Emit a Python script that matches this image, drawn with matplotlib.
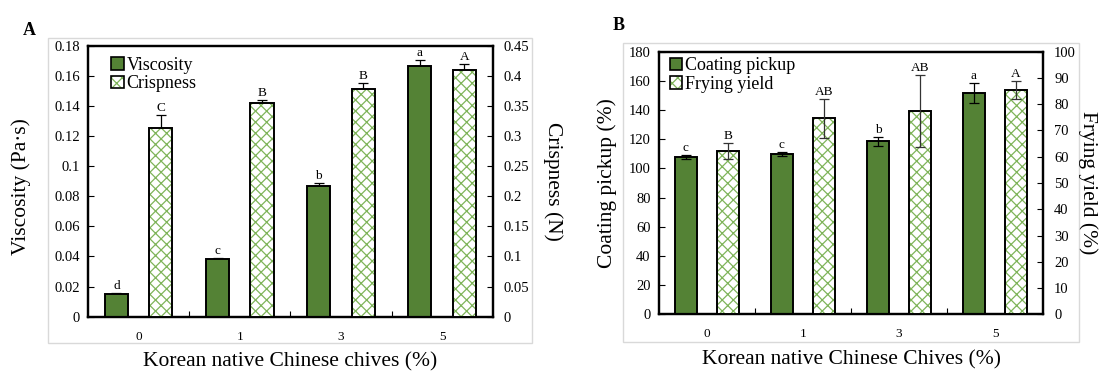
import matplotlib
matplotlib.use("Agg")
import matplotlib.pyplot as plt
import numpy as np
from matplotlib.patches import Patch, Rectangle
from matplotlib.legend_handler import HandlerTuple
from matplotlib.ticker import FuncFormatter

plt.rcParams.update({
    "font.family": "serif",
    "font.serif": ["Liberation Serif", "DejaVu Serif"],
    "hatch.linewidth": 0.9,
})

# ---- data ----
conc = ["0", "1", "3", "5"]

viscosity = [0.0148, 0.038, 0.0867, 0.1665]
viscosity_err = [0.0008, 0.0007, 0.0018, 0.0038]
viscosity_letters = ["d", "c", "b", "a"]

crispness = [0.314, 0.354, 0.378, 0.409]
crispness_err = [0.021, 0.006, 0.010, 0.010]
crispness_letters = ["C", "B", "B", "A"]

coating = [107.6, 109.9, 118.5, 151.5]
coating_err = [1.4, 1.2, 3.0, 6.9]
coating_letters = ["c", "c", "b", "a"]

frying = [62.3, 74.6, 77.4, 85.4]
frying_err = [3.0, 7.3, 13.8, 3.5]
frying_letters = ["B", "AB", "AB", "A"]

SOLID = "#548235"
HATCH = "#7fb45a"
BAR_W = 0.23
OFF = 0.22
LABEL_FS = 15.5


def fmt(v, pos):
    return f"{v:g}"


def solid_bars(ax, x, vals, errs, err_on_top=False):
    ax.bar(x, vals, BAR_W, color=SOLID, edgecolor="black", linewidth=1.4, zorder=3)
    ax.errorbar(x, vals, yerr=errs, fmt="none", ecolor="black", elinewidth=0.9,
                capsize=3.5, capthick=0.9, zorder=4 if err_on_top else 2)


def hatched_bars(ax, x, vals, errs, err_on_top=False):
    ax.bar(x, vals, BAR_W, color="white", edgecolor=HATCH, hatch="xxx", linewidth=0, zorder=3)
    ax.bar(x, vals, BAR_W, fill=False, edgecolor="black", linewidth=1.4, zorder=3.5)
    ax.errorbar(x, vals, yerr=errs, fmt="none", ecolor="#333333" if err_on_top else "black",
                elinewidth=0.9, capsize=3.5, capthick=0.9, zorder=4 if err_on_top else 2)


def letters(ax, x, vals, errs, labels):
    for xi, v, e, t in zip(x, vals, errs, labels):
        ax.annotate(t, (xi, v + e), xytext=(0, 3), textcoords="offset points",
                    ha="center", va="baseline", fontsize=9.5, zorder=5)


def style_axes(ax, ax2):
    for a in (ax, ax2):
        for s in a.spines.values():
            s.set_linewidth(1.6)
        a.tick_params(axis="y", direction="in", length=4, width=0.8, labelsize=10.5)
    ax.tick_params(axis="y", pad=6)
    ax2.tick_params(axis="y", pad=8)
    ax.set_xticks(range(len(conc)))
    ax.set_xticklabels(conc)
    ax.tick_params(axis="x", length=0, pad=10, labelsize=9.5)
    ax.set_xticks([0.5, 1.5, 2.5], minor=True)
    ax.tick_params(axis="x", which="minor", direction="in", length=4, width=0.8)
    ax.set_xlim(-0.5, len(conc) - 0.5)
    ax.yaxis.set_major_formatter(FuncFormatter(fmt))
    ax2.yaxis.set_major_formatter(FuncFormatter(fmt))


def legend(ax, labels, anchor):
    handles = [Patch(facecolor=SOLID, edgecolor="black", linewidth=1.2),
               (Patch(facecolor="white", edgecolor=HATCH, hatch="xxx", linewidth=0),
                Patch(fill=False, edgecolor="black", linewidth=1.2))]
    ax.legend(handles, labels, loc="upper left", frameon=False,
              fontsize=13, handlelength=0.7, handleheight=0.7, handletextpad=0.15,
              labelspacing=0.1, borderaxespad=0.2, bbox_to_anchor=anchor,
              handler_map={tuple: HandlerTuple(ndivide=1, pad=0)})


fig = plt.figure(figsize=(11, 3.71), dpi=100)

# grey chart-area borders
for (l, b, w, h) in [(0.0436, 0.0755, 0.44, 0.822), (0.5664, 0.0782, 0.4145, 0.806)]:
    fig.patches.append(Rectangle((l, b), w, h, transform=fig.transFigure, fill=False,
                                 edgecolor="#d9d9d9", linewidth=1.0, zorder=0))

x = np.arange(len(conc))

# ---- panel A ----
axA = fig.add_axes([0.08, 0.1464, 0.3679, 0.7305])
axA2 = axA.twinx()
solid_bars(axA, x - OFF, viscosity, viscosity_err)
letters(axA, x - OFF, viscosity, viscosity_err, viscosity_letters)
hatched_bars(axA2, x + OFF, crispness, crispness_err)
letters(axA2, x + OFF, crispness, crispness_err, crispness_letters)
axA.set_ylim(0, 0.18)
axA.set_yticks(np.arange(0, 0.181, 0.02))
axA2.set_ylim(0, 0.45)
axA2.set_yticks(np.arange(0, 0.451, 0.05))
style_axes(axA, axA2)
axA.set_ylabel("Viscosity (Pa·s)", fontsize=LABEL_FS, va="center")
axA.yaxis.set_label_coords(-0.165, 0.48)
axA2.set_ylabel("Crispness (N)", fontsize=LABEL_FS, rotation=270, va="center")
axA2.yaxis.set_label_coords(1.149, 0.5)
axA.set_xlabel("Korean native Chinese chives (%)", fontsize=LABEL_FS)
axA.xaxis.set_label_coords(0.5, -0.13)
legend(axA, ["Viscosity", "Crispness"], (0.03, 1.0))

fig.text(0.021, 0.905, "A", fontsize=13, fontweight="bold")

# ---- panel B ----
axB = fig.add_axes([0.5991, 0.1528, 0.3491, 0.708])
axB2 = axB.twinx()
axB2.set_zorder(axB.get_zorder() + 1)
solid_bars(axB, x - OFF, coating, coating_err, err_on_top=True)
letters(axB, x - OFF, coating, coating_err, coating_letters)
hatched_bars(axB2, x + OFF, frying, frying_err, err_on_top=True)
letters(axB2, x + OFF, frying, frying_err, frying_letters)
axB.set_ylim(0, 180)
axB.set_yticks(np.arange(0, 181, 20))
axB2.set_ylim(0, 100)
axB2.set_yticks(np.arange(0, 101, 10))
style_axes(axB, axB2)
axB.set_ylabel("Coating pickup (%)", fontsize=LABEL_FS, va="center")
axB.yaxis.set_label_coords(-0.135, 0.5)
axB2.set_ylabel("Frying yield (%)", fontsize=LABEL_FS, rotation=270, va="center")
axB2.yaxis.set_label_coords(1.117, 0.5)
axB.set_xlabel("Korean native Chinese Chives (%)", fontsize=LABEL_FS)
axB.xaxis.set_label_coords(0.5, -0.135)
legend(axB, ["Coating pickup", "Frying yield"], (0.0, 1.02))

fig.text(0.557, 0.92, "B", fontsize=13, fontweight="bold")

fig.savefig("out.png", dpi=100)
